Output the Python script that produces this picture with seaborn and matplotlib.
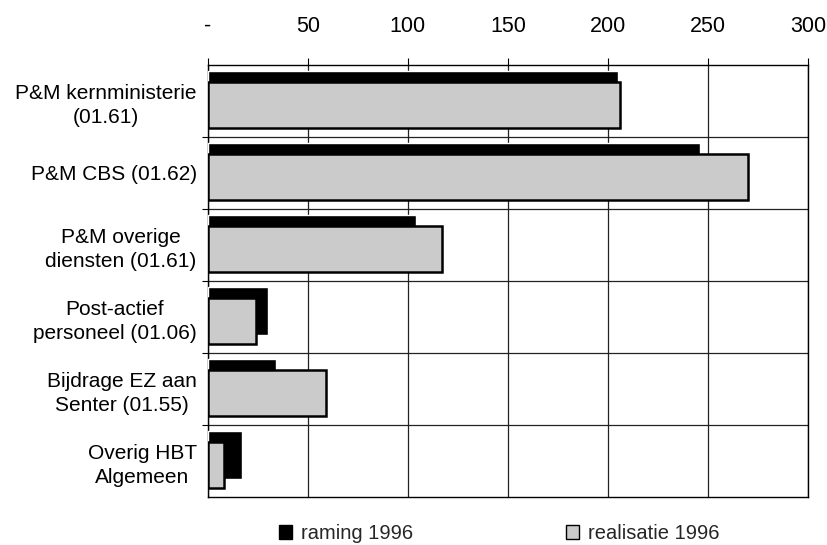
import numpy as np
import pandas as pd
import matplotlib
matplotlib.use("Agg")
import matplotlib.pyplot as plt
import seaborn as sns
from matplotlib.patches import Patch

# data
categories = [
    "P&M kernministerie\n(01.61)",
    "P&M CBS (01.62)",
    "P&M overige\ndiensten (01.61)",
    "Post-actief\npersoneel (01.06)",
    "Bijdrage EZ aan\nSenter (01.55)",
    "Overig HBT\nAlgemeen",
]
raming = [205, 246, 104, 30, 34, 17]
realisatie = [206, 270, 117, 24, 59, 8]
series_names = ["raming 1996", "realisatie 1996"]
x_ticks = [0, 50, 100, 150, 200, 250, 300]
x_ticklabels = ["-", "50", "100", "150", "200", "250", "300"]

df = pd.DataFrame({"post": categories, series_names[0]: raming, series_names[1]: realisatie})

sns.set_theme(style="white")
plt.rcParams["font.family"] = ["Liberation Sans", "DejaVu Sans"]

fig, ax = plt.subplots(figsize=(8.28, 5.45), dpi=100)
fig.subplots_adjust(left=0.251, right=0.976, top=0.881, bottom=0.088)

# black bars (raming), sitting a bit higher in each band
sns.barplot(data=df, x=series_names[0], y="post", color="black", width=0.66,
            saturation=1, ax=ax, zorder=3)
n_first = len(ax.patches)
# grey bars (realisatie), overlapping and shifted down
sns.barplot(data=df, x=series_names[1], y="post", color="#cbcbcb", width=0.64,
            saturation=1, edgecolor="black", linewidth=1.8, ax=ax, zorder=4)

for p in ax.patches[:n_first]:
    p.set_y(p.get_y() - 0.085)
for p in ax.patches[n_first:]:
    p.set_y(p.get_y() + 0.06)

ax.set_xlim(0, 300)
ax.set_ylim(len(categories) - 0.5, -0.5)
ax.set_xlabel("")
ax.set_ylabel("")
ax.set_axisbelow(True)

ax.xaxis.tick_top()
ax.set_xticks(x_ticks)
ax.set_xticklabels(x_ticklabels)
ax.set_yticks(np.arange(len(categories)))
ax.set_yticklabels(categories)
for t in ax.get_yticklabels():
    t.set_multialignment("center")
    t.set_linespacing(1.35)
ax.set_yticks(np.arange(len(categories) - 1) + 0.5, minor=True)

ax.tick_params(axis="x", which="major", top=True, bottom=False, length=5, width=0.8,
               color="black", direction="out", pad=15, labelsize=15.5, labelcolor="black")
ax.tick_params(axis="y", which="major", left=False, length=0, pad=8,
               labelsize=15, labelcolor="black")
ax.tick_params(axis="y", which="minor", left=True, length=4, width=0.8,
               color="black", direction="out")

ax.grid(axis="x", which="major", color="#222222", linewidth=0.9)
ax.grid(axis="y", which="minor", color="#222222", linewidth=0.9)
ax.grid(axis="y", which="major", visible=False)

for s in ax.spines.values():
    s.set_visible(True)
    s.set_color("black")
    s.set_linewidth(1.0)

handles = [Patch(facecolor="black", edgecolor="black"),
           Patch(facecolor="#cbcbcb", edgecolor="black", linewidth=1.0)]
fig.legend(handles=handles, labels=series_names, loc="lower center",
           bbox_to_anchor=(0.603, -0.03), ncol=2, frameon=False, fontsize=14.5,
           columnspacing=7.6, handlelength=0.65, handleheight=0.65, handletextpad=0.45)

plt.savefig("out.png", dpi=100)
